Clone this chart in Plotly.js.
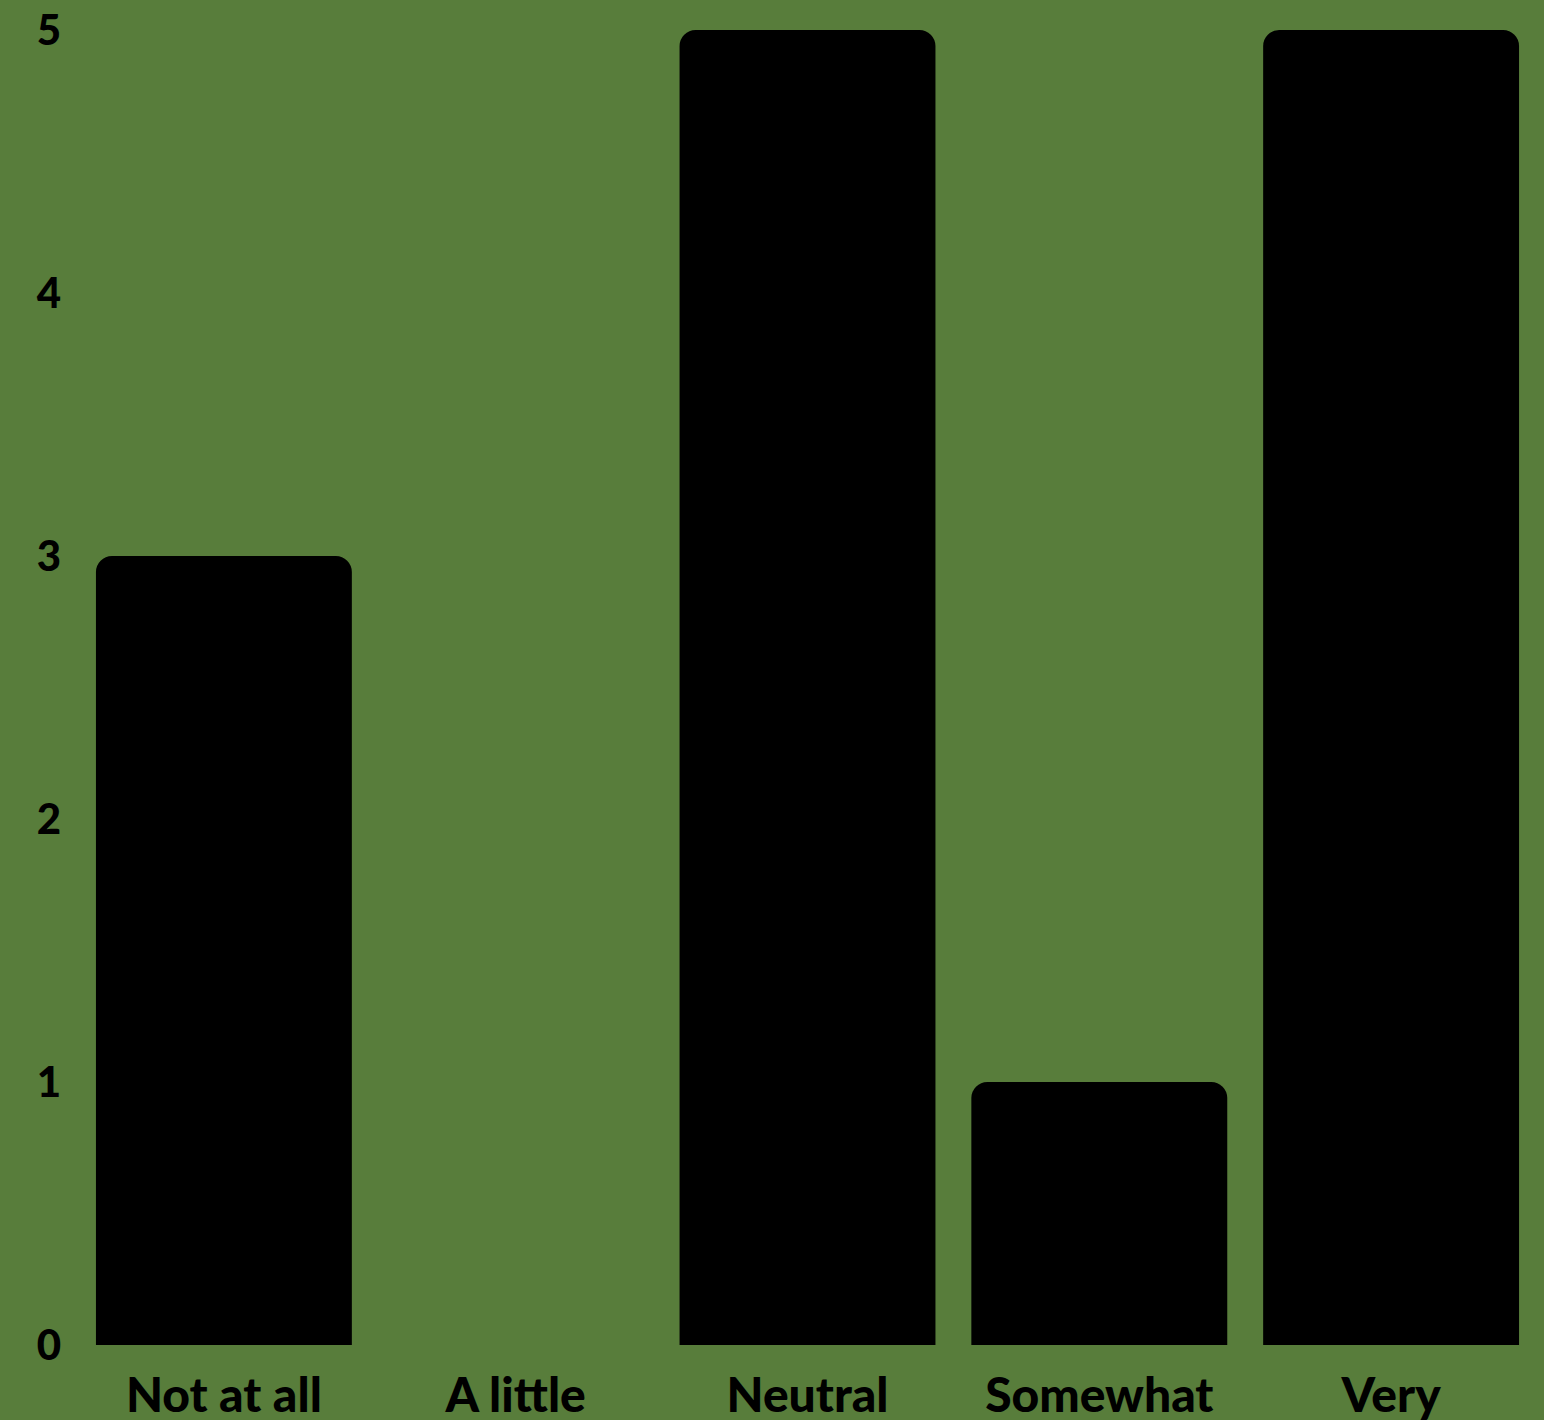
<!DOCTYPE html>
<html>
<head>
<meta charset="utf-8">
<script src="https://cdn.plot.ly/plotly-3.0.1.min.js"></script>
<style>html,body{margin:0;padding:0;background:#587d3b;}</style>
</head>
<body>
<div id="chart" style="width:1544px;height:1420px;"></div>
<script>
var categories = ["Not at all", "A little", "Neutral", "Somewhat", "Very"];
var counts = [3, 0, 5, 1, 5];
var yTicks = [0, 1, 2, 3, 4, 5];

var trace = {
  type: "bar",
  x: categories,
  y: counts,
  marker: {color: "#000000", cornerradius: 16},
  hoverinfo: "x+y"
};

var layout = {
  width: 1544,
  height: 1420,
  paper_bgcolor: "#587d3b",
  plot_bgcolor: "#587d3b",
  margin: {l: 78, r: 7, t: 30, b: 75},
  bargap: 0.123,
  showlegend: false,
  font: {family: "Lato, sans-serif", color: "#000000"},
  xaxis: {
    type: "category",
    showgrid: false,
    zeroline: false,
    showline: false,
    ticks: "",
    tickfont: {family: "Lato, sans-serif", size: 48, weight: 900, color: "#000000"},
    ticklabelstandoff: 18
  },
  yaxis: {
    range: [0, 5],
    tickvals: yTicks,
    showgrid: false,
    zeroline: false,
    showline: false,
    ticks: "",
    tickfont: {family: "Lato, sans-serif", size: 42, weight: 900, color: "#000000"},
    ticklabelstandoff: 16
  }
};

Plotly.newPlot("chart", [trace], layout, {displayModeBar: false, staticPlot: true});
</script>
</body>
</html>
